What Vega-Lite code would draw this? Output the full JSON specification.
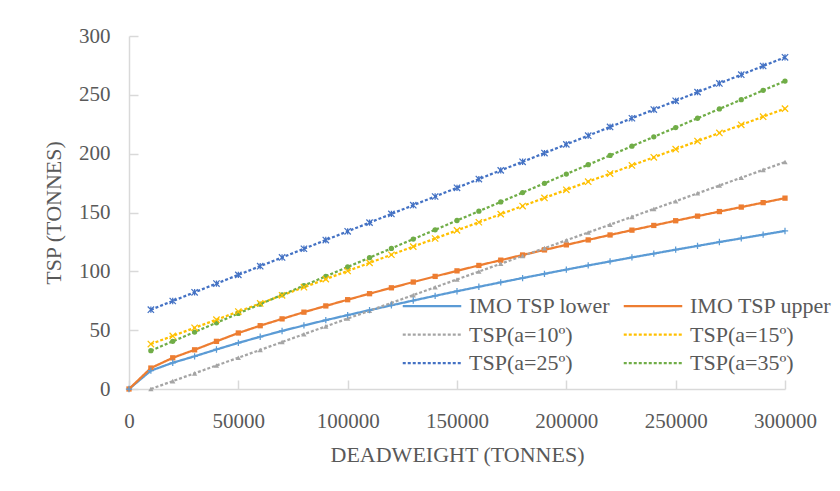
{
  "$schema": "https://vega.github.io/schema/vega-lite/v6.json",
  "width": 656,
  "height": 353,
  "autosize": {"type": "none"},
  "padding": {"left": 129, "top": 36, "right": 55, "bottom": 102},
  "background": "white",
  "config": {
    "view": {"stroke": null},
    "font": "Liberation Serif",
    "axis": {
      "grid": false,
      "domainColor": "#D9D9D9",
      "domainWidth": 1.5,
      "tickColor": "#D9D9D9",
      "tickWidth": 1.5,
      "tickSize": -9,
      "labelFont": "Liberation Serif",
      "labelFontSize": 21,
      "labelColor": "#595959",
      "titleFont": "Liberation Serif",
      "titleFontSize": 22,
      "titleFontWeight": "normal",
      "titleColor": "#595959",
      "labelFlush": false
    }
  },
  "resolve": {"scale": {"shape": "independent"}},
  "data": {
    "values": [
      {"dwt": 0, "IMO TSP lower": 0, "IMO TSP upper": 0},
      {"dwt": 10000, "IMO TSP lower": 15.6, "IMO TSP upper": 17.8, "TSP(a=10º)": 0.0, "TSP(a=15º)": 38.2, "TSP(a=25º)": 67.4, "TSP(a=35º)": 32.6},
      {"dwt": 20000, "IMO TSP lower": 22.3, "IMO TSP upper": 26.5, "TSP(a=10º)": 6.7, "TSP(a=15º)": 45.1, "TSP(a=25º)": 74.8, "TSP(a=35º)": 40.5},
      {"dwt": 30000, "IMO TSP lower": 27.8, "IMO TSP upper": 33.3, "TSP(a=10º)": 13.3, "TSP(a=15º)": 52.0, "TSP(a=25º)": 82.2, "TSP(a=35º)": 48.4},
      {"dwt": 40000, "IMO TSP lower": 33.6, "IMO TSP upper": 40.5, "TSP(a=10º)": 20.0, "TSP(a=15º)": 58.9, "TSP(a=25º)": 89.6, "TSP(a=35º)": 56.3},
      {"dwt": 50000, "IMO TSP lower": 39.2, "IMO TSP upper": 47.6, "TSP(a=10º)": 26.6, "TSP(a=15º)": 65.8, "TSP(a=25º)": 97.0, "TSP(a=35º)": 64.2},
      {"dwt": 60000, "IMO TSP lower": 44.4, "IMO TSP upper": 53.8, "TSP(a=10º)": 33.2, "TSP(a=15º)": 72.7, "TSP(a=25º)": 104.4, "TSP(a=35º)": 72.1},
      {"dwt": 70000, "IMO TSP lower": 49.3, "IMO TSP upper": 59.6, "TSP(a=10º)": 39.9, "TSP(a=15º)": 79.6, "TSP(a=25º)": 111.8, "TSP(a=35º)": 80.0},
      {"dwt": 80000, "IMO TSP lower": 54.0, "IMO TSP upper": 65.3, "TSP(a=10º)": 46.6, "TSP(a=15º)": 86.5, "TSP(a=25º)": 119.2, "TSP(a=35º)": 87.9},
      {"dwt": 90000, "IMO TSP lower": 58.5, "IMO TSP upper": 70.6, "TSP(a=10º)": 53.2, "TSP(a=15º)": 93.4, "TSP(a=25º)": 126.6, "TSP(a=35º)": 95.8},
      {"dwt": 100000, "IMO TSP lower": 62.8, "IMO TSP upper": 75.9, "TSP(a=10º)": 59.9, "TSP(a=15º)": 100.3, "TSP(a=25º)": 134.0, "TSP(a=35º)": 103.7},
      {"dwt": 110000, "IMO TSP lower": 67.0, "IMO TSP upper": 81.0, "TSP(a=10º)": 66.5, "TSP(a=15º)": 107.2, "TSP(a=25º)": 141.4, "TSP(a=35º)": 111.6},
      {"dwt": 120000, "IMO TSP lower": 71.1, "IMO TSP upper": 86.0, "TSP(a=10º)": 73.2, "TSP(a=15º)": 114.1, "TSP(a=25º)": 148.8, "TSP(a=35º)": 119.5},
      {"dwt": 130000, "IMO TSP lower": 75.2, "IMO TSP upper": 90.9, "TSP(a=10º)": 79.8, "TSP(a=15º)": 121.0, "TSP(a=25º)": 156.2, "TSP(a=35º)": 127.4},
      {"dwt": 140000, "IMO TSP lower": 79.2, "IMO TSP upper": 95.7, "TSP(a=10º)": 86.5, "TSP(a=15º)": 127.9, "TSP(a=25º)": 163.6, "TSP(a=35º)": 135.3},
      {"dwt": 150000, "IMO TSP lower": 83.1, "IMO TSP upper": 100.4, "TSP(a=10º)": 93.1, "TSP(a=15º)": 134.8, "TSP(a=25º)": 171.0, "TSP(a=35º)": 143.2},
      {"dwt": 160000, "IMO TSP lower": 86.9, "IMO TSP upper": 105.0, "TSP(a=10º)": 99.8, "TSP(a=15º)": 141.7, "TSP(a=25º)": 178.4, "TSP(a=35º)": 151.1},
      {"dwt": 170000, "IMO TSP lower": 90.6, "IMO TSP upper": 109.5, "TSP(a=10º)": 106.4, "TSP(a=15º)": 148.6, "TSP(a=25º)": 185.8, "TSP(a=35º)": 159.0},
      {"dwt": 180000, "IMO TSP lower": 94.3, "IMO TSP upper": 113.9, "TSP(a=10º)": 113.1, "TSP(a=15º)": 155.5, "TSP(a=25º)": 193.1, "TSP(a=35º)": 166.9},
      {"dwt": 190000, "IMO TSP lower": 97.9, "IMO TSP upper": 118.2, "TSP(a=10º)": 119.7, "TSP(a=15º)": 162.4, "TSP(a=25º)": 200.5, "TSP(a=35º)": 174.8},
      {"dwt": 200000, "IMO TSP lower": 101.5, "IMO TSP upper": 122.5, "TSP(a=10º)": 126.4, "TSP(a=15º)": 169.3, "TSP(a=25º)": 207.9, "TSP(a=35º)": 182.7},
      {"dwt": 210000, "IMO TSP lower": 105.0, "IMO TSP upper": 126.7, "TSP(a=10º)": 133.0, "TSP(a=15º)": 176.2, "TSP(a=25º)": 215.3, "TSP(a=35º)": 190.6},
      {"dwt": 220000, "IMO TSP lower": 108.4, "IMO TSP upper": 130.9, "TSP(a=10º)": 139.7, "TSP(a=15º)": 183.1, "TSP(a=25º)": 222.7, "TSP(a=35º)": 198.5},
      {"dwt": 230000, "IMO TSP lower": 111.8, "IMO TSP upper": 135.0, "TSP(a=10º)": 146.3, "TSP(a=15º)": 190.0, "TSP(a=25º)": 230.1, "TSP(a=35º)": 206.4},
      {"dwt": 240000, "IMO TSP lower": 115.1, "IMO TSP upper": 139.0, "TSP(a=10º)": 153.0, "TSP(a=15º)": 196.9, "TSP(a=25º)": 237.5, "TSP(a=35º)": 214.3},
      {"dwt": 250000, "IMO TSP lower": 118.4, "IMO TSP upper": 143.0, "TSP(a=10º)": 159.6, "TSP(a=15º)": 203.8, "TSP(a=25º)": 244.9, "TSP(a=35º)": 222.2},
      {"dwt": 260000, "IMO TSP lower": 121.6, "IMO TSP upper": 146.9, "TSP(a=10º)": 166.3, "TSP(a=15º)": 210.7, "TSP(a=25º)": 252.3, "TSP(a=35º)": 230.1},
      {"dwt": 270000, "IMO TSP lower": 124.9, "IMO TSP upper": 150.8, "TSP(a=10º)": 172.9, "TSP(a=15º)": 217.6, "TSP(a=25º)": 259.7, "TSP(a=35º)": 238.0},
      {"dwt": 280000, "IMO TSP lower": 128.0, "IMO TSP upper": 154.6, "TSP(a=10º)": 179.6, "TSP(a=15º)": 224.5, "TSP(a=25º)": 267.1, "TSP(a=35º)": 245.9},
      {"dwt": 290000, "IMO TSP lower": 131.2, "IMO TSP upper": 158.4, "TSP(a=10º)": 186.2, "TSP(a=15º)": 231.4, "TSP(a=25º)": 274.5, "TSP(a=35º)": 253.8},
      {"dwt": 300000, "IMO TSP lower": 134.3, "IMO TSP upper": 162.2, "TSP(a=10º)": 192.9, "TSP(a=15º)": 238.3, "TSP(a=25º)": 281.9, "TSP(a=35º)": 261.7}
    ]
  },
  "transform": [
    {"fold": ["IMO TSP lower", "IMO TSP upper", "TSP(a=10º)", "TSP(a=15º)", "TSP(a=25º)", "TSP(a=35º)"], "as": ["series", "tsp"]},
    {"filter": "isValid(datum.tsp)"}
  ],
  "encoding": {
    "x": {
      "field": "dwt", "type": "quantitative",
      "scale": {"domain": [0, 300000], "nice": false, "zero": false},
      "axis": {"values": [0, 50000, 100000, 150000, 200000, 250000, 300000], "format": "d", "labelPadding": 30, "title": "DEADWEIGHT (TONNES)", "titlePadding": 13}
    },
    "y": {
      "field": "tsp", "type": "quantitative",
      "scale": {"domain": [0, 300], "nice": false},
      "axis": {"values": [0, 50, 100, 150, 200, 250, 300], "labelPadding": 28, "title": "TSP (TONNES)", "titlePadding": 13}
    }
  },
  "layer": [
    {
      "mark": {"type": "line"},
      "encoding": {
        "color": {
          "field": "series", "type": "nominal",
          "scale": {"domain": ["IMO TSP lower", "IMO TSP upper", "TSP(a=10º)", "TSP(a=15º)", "TSP(a=25º)", "TSP(a=35º)"], "range": ["#5B9BD5", "#ED7D31", "#A5A5A5", "#FFC000", "#4472C4", "#70AD47"]},
          "legend": {"orient": "none", "legendX": 292, "legendY": 259, "columns": 2, "direction": "horizontal", "title": null, "symbolType": "M-3.9,0L3.9,0", "symbolSize": 225, "symbolStrokeWidth": 1.75, "labelFont": "Liberation Serif", "labelFontSize": 22, "labelColor": "#595959", "labelOffset": 26, "columnPadding": 8, "rowPadding": 6.5, "padding": 0, "labelLimit": 300}
        },
        "strokeDash": {
          "field": "series", "type": "nominal",
          "scale": {"domain": ["IMO TSP lower", "IMO TSP upper", "TSP(a=10º)", "TSP(a=15º)", "TSP(a=25º)", "TSP(a=35º)"], "range": [[1, 0], [1, 0], [3, 2], [3, 2], [3, 2], [3, 2]]}
        },
        "strokeWidth": {
          "field": "series", "type": "nominal",
          "scale": {"domain": ["IMO TSP lower", "IMO TSP upper", "TSP(a=10º)", "TSP(a=15º)", "TSP(a=25º)", "TSP(a=35º)"], "range": [2.25, 2.25, 1.5, 1.5, 1.5, 1.5]},
          "legend": null
        }
      }
    },
    {
      "transform": [{"filter": {"field": "series", "oneOf": ["IMO TSP upper", "TSP(a=10º)", "TSP(a=35º)"]}}],
      "mark": {"type": "point", "filled": true, "size": 28, "opacity": 1},
      "encoding": {
        "fill": {
          "field": "series", "type": "nominal",
          "scale": {"domain": ["IMO TSP upper", "TSP(a=10º)", "TSP(a=35º)"], "range": ["#ED7D31", "#A5A5A5", "#70AD47"]},
          "legend": null
        },
        "shape": {
          "field": "series", "type": "nominal",
          "scale": {"domain": ["IMO TSP upper", "TSP(a=10º)", "TSP(a=35º)"], "range": ["square", "triangle-up", "circle"]},
          "legend": null
        }
      }
    },
    {
      "transform": [{"filter": {"field": "series", "oneOf": ["IMO TSP lower", "TSP(a=15º)", "TSP(a=25º)"]}}],
      "mark": {"type": "point", "filled": false, "size": 40, "opacity": 1, "strokeWidth": 1.25},
      "encoding": {
        "stroke": {
          "field": "series", "type": "nominal",
          "scale": {"domain": ["IMO TSP lower", "TSP(a=15º)", "TSP(a=25º)"], "range": ["#5B9BD5", "#FFC000", "#4472C4"]},
          "legend": null
        },
        "shape": {
          "field": "series", "type": "nominal",
          "scale": {"domain": ["IMO TSP lower", "TSP(a=15º)", "TSP(a=25º)"], "range": ["M-1,0L1,0M0,-1L0,1", "M-1,-1L1,1M-1,1L1,-1", "M-1,-1L1,1M-1,1L1,-1M0,-1L0,1"]},
          "legend": null
        }
      }
    }
  ]
}
